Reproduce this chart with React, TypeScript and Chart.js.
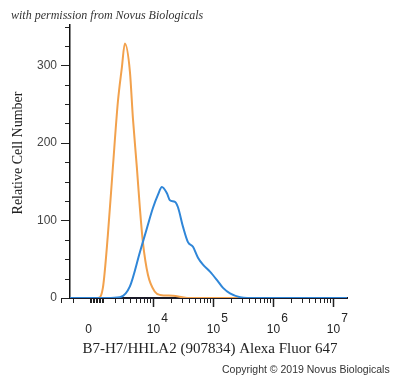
import React, { useEffect, useRef } from "react";
import { Chart, registerables } from "chart.js";

Chart.register(...registerables);

// x values are in display (biexponential) units: ~log10 of intensity
const isotypeX = [2.62, 3.083, 3.167, 3.25, 3.333, 3.417, 3.483, 3.533, 3.617, 3.667, 3.733, 3.783, 3.833, 3.917, 4.033, 4.117, 4.333, 4.567, 7.23];
const isotypeY = [0, 0, 13, 81, 168, 253, 297, 328, 292, 232, 168, 116, 72, 30, 8, 4, 3, 0, 0];

const stainedX = [2.62, 3.233, 3.45, 3.617, 3.783, 3.9, 4.0, 4.083, 4.15, 4.233, 4.283, 4.367, 4.417, 4.5, 4.583, 4.667, 4.75, 4.833, 4.95, 5.067, 5.167, 5.283, 5.45, 5.567, 7.23];
const stainedY = [0, 0, 1, 15, 59, 90, 116, 133, 143, 135, 126, 124, 117, 92, 72, 66, 52, 43, 34, 23, 13, 6, 1, 0, 0];

// axis ticks (intensity values)
const xMajorValues = [0, 1e4, 1e5, 1e6, 1e7];
const xMajorBase = ["0", "10", "10", "10", "10"];
const xMajorExp = ["", "4", "5", "6", "7"];
const xMinorValues = [
  -2000, -1000, 100, 200, 300, 400, 500, 600, 700, 800, 900, 1000,
  2000, 3000, 4000, 5000, 6000, 7000, 8000, 9000,
  2e4, 3e4, 4e4, 5e4, 6e4, 7e4, 8e4, 9e4,
  2e5, 3e5, 4e5, 5e5, 6e5, 7e5, 8e5, 9e5,
  2e6, 3e6, 4e6, 5e6, 6e6, 7e6, 8e6, 9e6,
];
const yLabelValues = [0, 100, 200, 300];
const yTickValues = [0, 25, 50, 75, 100, 125, 150, 175, 200, 225, 250, 275, 300, 325, 350];

const xTitle = "B7-H7/HHLA2 (907834) Alexa Fluor 647";
const yTitle = "Relative Cell Number";
const topNote = "with permission from Novus Biologicals";
const copyright = "Copyright \u00A9 2019 Novus Biologicals";

const W = 830;
const toDisplay = (v: number) => Math.log10(W) + Math.asinh(v / (2 * W)) / Math.LN10;

const decor = {
  id: "decor",
  afterDraw(chart: any) {
    const ctx = chart.ctx;
    const xs = chart.scales.x;
    const ys = chart.scales.y;
    const area = chart.chartArea;
    const b = area.bottom;
    const l = area.left;
    ctx.save();
    // y ticks
    ctx.strokeStyle = "#222";
    ctx.lineWidth = 1;
    yTickValues.forEach((v) => {
      const py = Math.round(ys.getPixelForValue(v)) + 0.5;
      const len = yLabelValues.includes(v) ? 9 : 5;
      ctx.beginPath();
      ctx.moveTo(l - len, py);
      ctx.lineTo(l - 1, py);
      ctx.stroke();
    });
    // x ticks
    xMinorValues.forEach((v) => {
      const px = Math.round(xs.getPixelForValue(toDisplay(v))) + 0.5;
      ctx.beginPath();
      ctx.moveTo(px, b + 1);
      ctx.lineTo(px, b + 5);
      ctx.stroke();
    });
    ctx.lineWidth = 1.5;
    xMajorValues.forEach((v, i) => {
      const px = Math.round(xs.getPixelForValue(toDisplay(v))) + 0.5;
      if (i > 0) {
        ctx.beginPath();
        ctx.moveTo(px, b + 1);
        ctx.lineTo(px, b + 9);
        ctx.stroke();
      }
      ctx.fillStyle = "#222";
      ctx.font = "12px 'Liberation Sans', Arial, sans-serif";
      ctx.textAlign = "center";
      ctx.textBaseline = "middle";
      ctx.fillText(xMajorBase[i], px, 330);
      if (xMajorExp[i]) {
        const w = ctx.measureText(xMajorBase[i]).width;
        ctx.textAlign = "left";
        ctx.fillText(xMajorExp[i], px + w / 2 + 1, 319);
      }
    });
    // axis titles
    ctx.fillStyle = "#222";
    ctx.font = "15px 'Liberation Serif', 'Times New Roman', serif";
    ctx.textAlign = "center";
    ctx.textBaseline = "middle";
    ctx.fillText(xTitle, 210, 349);
    ctx.save();
    ctx.translate(18, 153);
    ctx.rotate(-Math.PI / 2);
    ctx.font = "14px 'Liberation Serif', 'Times New Roman', serif";
    ctx.fillText(yTitle, 0, 0);
    ctx.restore();
    // notes
    ctx.textAlign = "left";
    ctx.font = "italic 12px 'Liberation Serif', 'Times New Roman', serif";
    ctx.fillStyle = "#333";
    ctx.fillText(topNote, 11, 16);
    ctx.font = "10.5px 'Liberation Sans', Arial, sans-serif";
    ctx.fillText(copyright, 222, 370);
    ctx.restore();
  },
};

export default function App() {
  const ref = useRef<HTMLCanvasElement | null>(null);
  useEffect(() => {
    if (!ref.current) return;
    const chart = new Chart(ref.current, {
      type: "line",
      data: {
        datasets: [
          {
            label: "B7-H7/HHLA2",
            data: stainedX.map((x, i) => ({ x, y: stainedY[i] })),
            borderColor: "#2f86d8",
            borderWidth: 2,
            pointRadius: 0,
            fill: false,
            cubicInterpolationMode: "monotone",
          },
          {
            label: "Isotype",
            data: isotypeX.map((x, i) => ({ x, y: isotypeY[i] })),
            borderColor: "#f2a14c",
            borderWidth: 2,
            pointRadius: 0,
            fill: false,
            cubicInterpolationMode: "monotone",
          },
        ],
      },
      options: {
        animation: false,
        responsive: true,
        maintainAspectRatio: false,
        layout: { padding: { top: 25, right: 53, left: 0, bottom: 0 } },
        plugins: { legend: { display: false }, tooltip: { enabled: false } },
        scales: {
          x: {
            type: "linear",
            min: 2.62,
            max: 7.23,
            ticks: { display: false },
            grid: { display: true, drawOnChartArea: false, drawTicks: false },
            border: { display: true, color: "#1a1a28", width: 2 },
            afterFit(scale: any) {
              scale.height = 80;
            },
          },
          y: {
            type: "linear",
            min: 0,
            max: 352,
            ticks: {
              stepSize: 25,
              padding: 13,
              color: "#444",
              font: { family: "'Liberation Sans', Arial, sans-serif", size: 12 },
              callback: (v: any) => (yLabelValues.includes(Number(v)) ? String(v) : ""),
            },
            grid: { drawOnChartArea: false, drawTicks: false },
            border: { display: true, color: "#111", width: 1.5 },
            afterFit(scale: any) {
              scale.width = 70;
            },
          },
        },
      },
      plugins: [decor],
    });
    return () => chart.destroy();
  }, []);
  return (
    <div style={{ position: "absolute", left: 0, top: 0, width: 400, height: 378, background: "#fff" }}>
      <canvas ref={ref} />
    </div>
  );
}
